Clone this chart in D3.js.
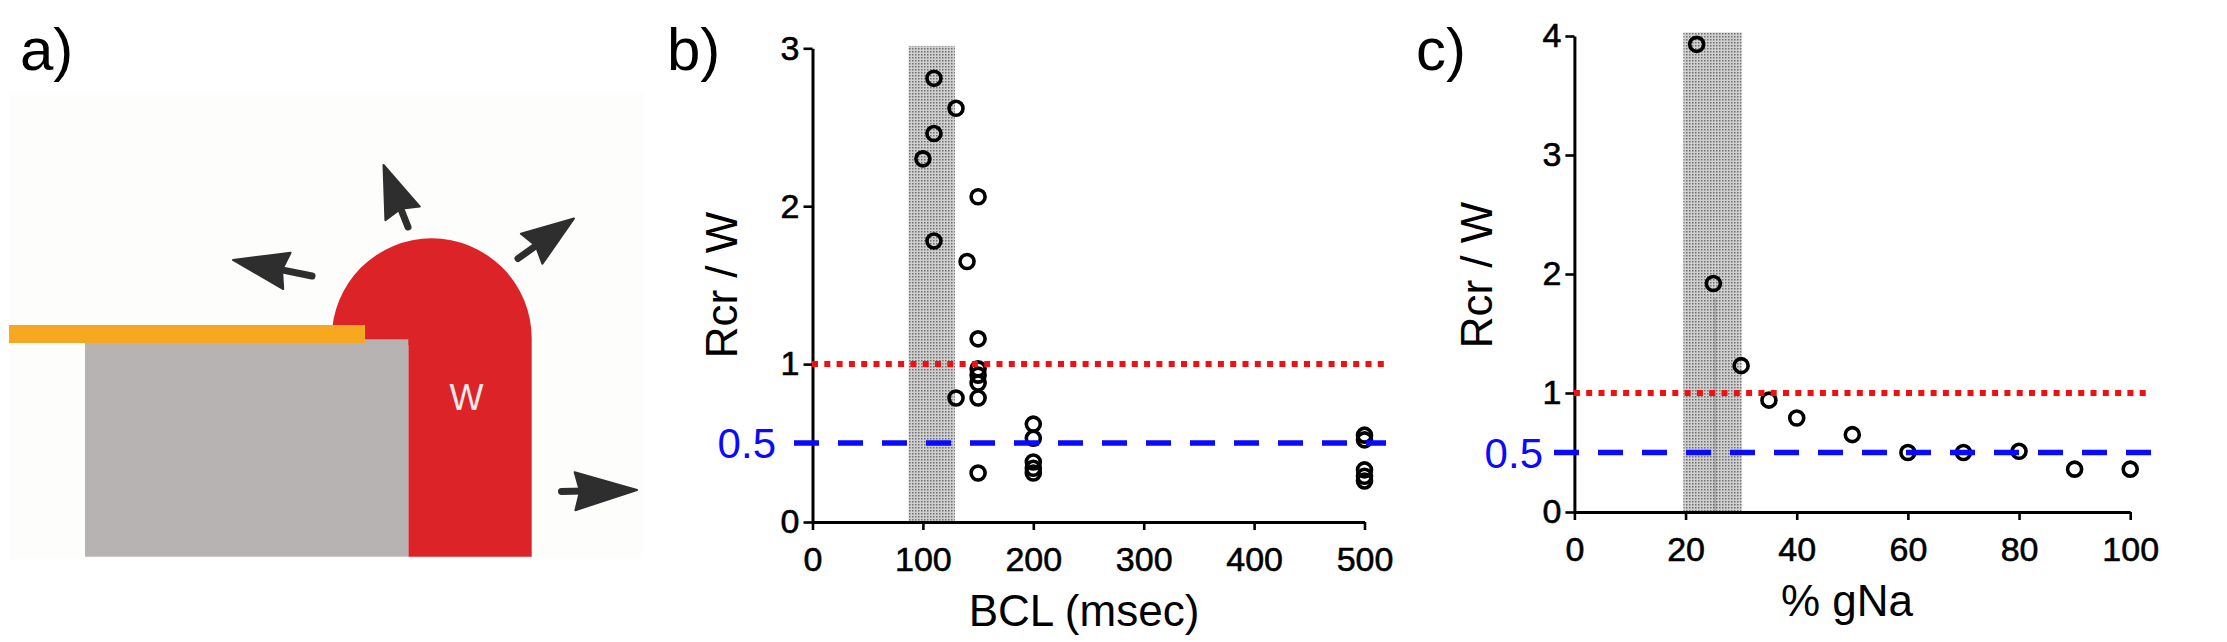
<!DOCTYPE html>
<html>
<head>
<meta charset="utf-8">
<script src="https://cdn.jsdelivr.net/npm/d3@7"></script>
<style>
html,body{margin:0;padding:0;background:#fff;}
svg{display:block;font-family:"Liberation Sans",Arial,Helvetica,sans-serif;}
</style>
</head>
<body>
<script>
// ---------- data ----------
const bclTicks = [0, 100, 200, 300, 400, 500];
const bclYTicks = [0, 1, 2, 3];
const bclBand = [87, 129];
const bclX = [110, 130, 110, 100, 150, 110, 140, 150, 150, 150, 150, 130, 150, 150, 200, 200, 200, 200, 200, 500, 500, 500, 500, 500];
const bclY = [2.81, 2.62, 2.46, 2.30, 2.06, 1.78, 1.65, 1.16, 0.97, 0.93, 0.88, 0.785, 0.785, 0.31, 0.62, 0.53, 0.38, 0.34, 0.31, 0.55, 0.52, 0.33, 0.29, 0.26];

const gnaTicks = [0, 20, 40, 60, 80, 100];
const gnaYTicks = [0, 1, 2, 3, 4];
const gnaBand = [19.6, 30.1];
const gnaX = [22, 25, 30, 35, 40, 50, 60, 70, 80, 90, 100];
const gnaY = [3.93, 1.92, 1.23, 0.94, 0.79, 0.65, 0.50, 0.50, 0.51, 0.36, 0.36];

const refLines = [1, 0.5];       // red dotted threshold, blue dashed threshold
const refLabel = "0.5";

// ---------- svg ----------
const W = 2227, H = 642;
const svg = d3.select("body").append("svg").attr("width", W).attr("height", H);
const defs = svg.append("defs");
const pat = defs.append("pattern").attr("id", "stip").attr("patternUnits", "userSpaceOnUse")
  .attr("width", 3).attr("height", 3);
pat.append("rect").attr("width", 3).attr("height", 3).attr("fill", "#d0d0d0");
pat.append("rect").attr("width", 1.5).attr("height", 1.5).attr("fill", "#6e6e6e");

const FONT = '"Liberation Sans", Arial, Helvetica, sans-serif';

// ---------- panel labels ----------
[["a)", 20], ["b)", 667], ["c)", 1416]].forEach(([t, x]) => {
  svg.append("text").attr("x", x).attr("y", 70).attr("font-size", 60).attr("fill", "#000").text(t);
});

// ---------- panel a: illustration ----------
const ga = svg.append("g");
ga.append("rect").attr("x", 9).attr("y", 92).attr("width", 634).attr("height", 467).attr("fill", "#fdfdfc");
// red wavefront (rounded top)
ga.append("path")
  .attr("d", "M331.7,345 L331.7,338.3 A100,100 0 0,1 531.7,338.3 L531.7,556.7 L408.3,556.7 L408.3,345 Z")
  .attr("fill", "#dc2328");
// gray tissue block
ga.append("rect").attr("x", 85).attr("y", 339.3).attr("width", 323.3).attr("height", 217.4).attr("fill", "#b7b3b3");
// orange edge
ga.append("rect").attr("x", 9).attr("y", 325).attr("width", 356).attr("height", 18).attr("fill", "#f6a821");
ga.append("text").attr("x", 466.5).attr("y", 409.5).attr("text-anchor", "middle")
  .attr("font-size", 36).attr("fill", "#f8e8e8").text("W");

function arrow(g, sx, sy, tx, ty, hl, hw) {
  const dx = tx - sx, dy = ty - sy, L = Math.hypot(dx, dy);
  const ux = dx / L, uy = dy / L, nx = -uy, ny = ux;
  const bx = tx - ux * hl, by = ty - uy * hl;
  g.append("line").attr("x1", sx).attr("y1", sy).attr("x2", bx + ux * 4).attr("y2", by + uy * 4)
    .attr("stroke", "#2e2e2e").attr("stroke-width", 7).attr("stroke-linecap", "round");
  const bb = 5; // slight swept-back corners
  g.append("path")
    .attr("d", `M${tx},${ty} L${bx + nx * hw - ux * bb},${by + ny * hw - uy * bb} L${bx},${by} L${bx - nx * hw - ux * bb},${by - ny * hw - uy * bb} Z`)
    .attr("fill", "#2e2e2e").attr("stroke", "#2e2e2e").attr("stroke-width", 2).attr("stroke-linejoin", "round");
}
arrow(ga, 312, 276, 233, 260, 50, 18.5);
arrow(ga, 408, 227, 383.5, 165, 47, 18.5);
arrow(ga, 518, 258.5, 574, 218.5, 47, 18.5);
arrow(ga, 561.5, 491.5, 637, 490, 57, 19);

// ---------- scatter panels ----------
function panel(opt) {
  const g = svg.append("g");
  const x = d3.scaleLinear().domain(opt.xDomain).range(opt.xRange);
  const y = d3.scaleLinear().domain(opt.yDomain).range(opt.yRange);

  // shaded band
  g.append("rect")
    .attr("x", x(opt.band[0])).attr("width", x(opt.band[1]) - x(opt.band[0]))
    .attr("y", y(opt.bandTop)).attr("height", y(0) - y(opt.bandTop))
    .attr("fill", "url(#stip)");
  if (opt.artifact) {
    g.append("line").attr("x1", x(opt.artifact[0])).attr("x2", x(opt.artifact[0]))
      .attr("y1", y(opt.artifact[1])).attr("y2", y(0))
      .attr("stroke", "#444").attr("stroke-opacity", 0.22).attr("stroke-width", 3);
  }

  // axes
  const xa = g.append("g").attr("transform", `translate(0,${y(0)})`)
    .call(d3.axisBottom(x).tickValues(opt.xTicks).tickSize(8).tickSizeOuter(0).tickPadding(17).tickFormat(d3.format("d")));
  const ya = g.append("g").attr("transform", `translate(${x(0)},0)`)
    .call(d3.axisLeft(y).tickValues(opt.yTicks).tickSize(9).tickSizeOuter(0).tickPadding(4).tickFormat(d3.format("d")));
  [xa, ya].forEach(a => {
    a.select(".domain").attr("stroke", "#000").attr("stroke-width", 3);
    a.selectAll(".tick line").attr("stroke", "#000").attr("stroke-width", 2.6);
    a.selectAll(".tick text").attr("font-family", FONT).attr("font-size", 34).attr("fill", "#000")
      .attr("stroke", "#000").attr("stroke-width", 0.6);
  });

  // circles
  g.selectAll("circle.pt").data(opt.xs.map((v, i) => [v, opt.ys[i]])).join("circle")
    .attr("class", "pt")
    .attr("cx", d => x(d[0])).attr("cy", d => y(d[1])).attr("r", 7)
    .attr("fill", "none").attr("stroke", "#000").attr("stroke-width", 3.6);

  // reference lines
  g.append("line").attr("x1", x(0) - 0.5).attr("x2", opt.lineEnd)
    .attr("y1", y(refLines[0])).attr("y2", y(refLines[0]))
    .attr("stroke", "#f01010").attr("stroke-width", 6).attr("stroke-dasharray", "6 6.3");
  g.append("line").attr("x1", opt.blueStart).attr("x2", opt.lineEnd)
    .attr("y1", y(refLines[1])).attr("y2", y(refLines[1]))
    .attr("stroke", "#0a0aff").attr("stroke-width", 5.5).attr("stroke-dasharray", "25 19");
  g.append("text").attr("x", opt.labelRight).attr("y", y(refLines[1])).attr("dy", "0.36em")
    .attr("text-anchor", "end").attr("font-size", 42).attr("fill", "#0a0aff").text(refLabel);

  // titles
  g.append("text").attr("transform", `translate(${opt.yTitle[0]},${opt.yTitle[1]}) rotate(-90)`)
    .attr("text-anchor", "middle").attr("font-size", 44).attr("fill", "#000").text("Rcr / W");
  g.append("text").attr("x", opt.xTitle[0]).attr("y", opt.xTitle[1])
    .attr("text-anchor", "middle").attr("font-size", 44).attr("fill", "#000").text(opt.xLabel);
}

panel({
  xDomain: [0, 500], xRange: [812.5, 1364.5],
  yDomain: [0, 3], yRange: [522, 48.3],
  xTicks: bclTicks, yTicks: bclYTicks,
  band: bclBand, bandTop: 3.015,
  xs: bclX, ys: bclY,
  lineEnd: 1386, blueStart: 794, labelRight: 776,
  yTitle: [737, 285], xTitle: [1084, 626], xLabel: "BCL (msec)"
});

panel({
  xDomain: [0, 100], xRange: [1574.4, 2130.2],
  yDomain: [0, 4], yRange: [512, 36],
  xTicks: gnaTicks, yTicks: gnaYTicks,
  band: gnaBand, bandTop: 4.03, artifact: [25.3, 1.8],
  xs: gnaX, ys: gnaY,
  lineEnd: 2151, blueStart: 1554, labelRight: 1543,
  yTitle: [1492, 275], xTitle: [1847, 616], xLabel: "% gNa"
});
</script>
</body>
</html>
